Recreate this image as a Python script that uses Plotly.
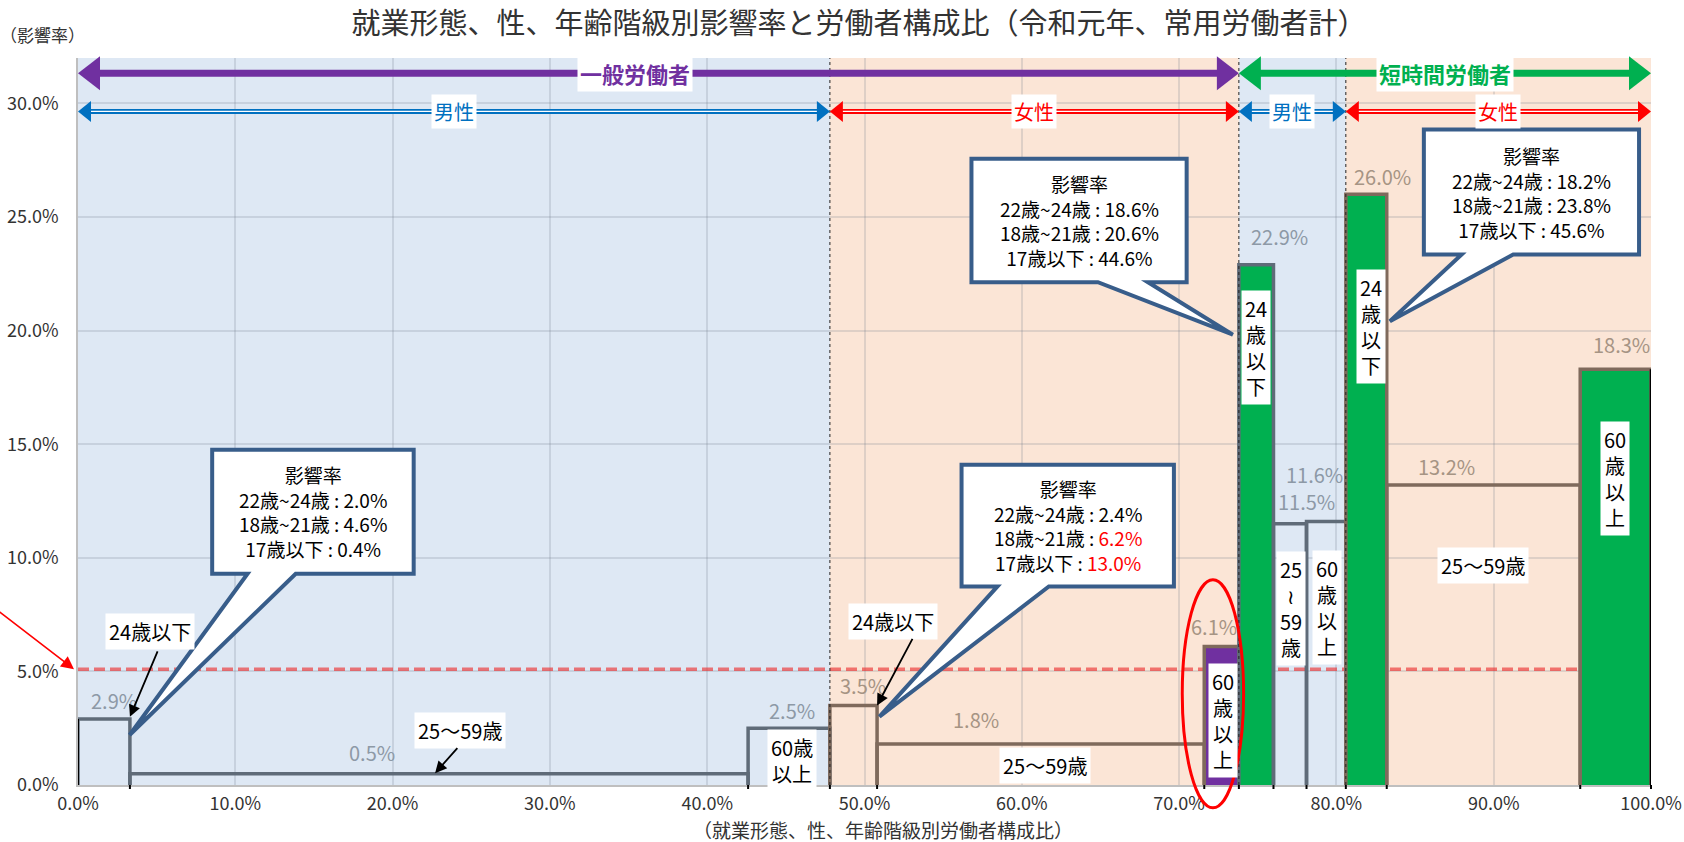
import numpy as np
import plotly.graph_objects as go

# ---------------- data ----------------
employment = ["一般労働者"] * 6 + ["短時間労働者"] * 6
sex = ["男性"] * 3 + ["女性"] * 3 + ["男性"] * 3 + ["女性"] * 3
age = ["24歳以下", "25〜59歳", "60歳以上"] * 4
composition = [3.3, 39.3, 5.2, 3.0, 20.8, 2.2, 2.2, 2.1, 2.5, 2.6, 12.3, 4.5]   # 労働者構成比 (%)
impact = [2.9, 0.5, 2.5, 3.5, 1.8, 6.1, 22.9, 11.5, 11.6, 26.0, 13.2, 18.3]     # 影響率 (%)
reference_rate = 5.1

# detailed impact rate of young workers (callouts), one per 24歳以下 block
young_block = [0, 3, 6, 9]
young_names = ["22歳~24歳", "18歳~21歳", "17歳以下"]
young_22_24 = [2.0, 2.4, 18.6, 18.2]
young_18_21 = [4.6, 6.2, 20.6, 23.8]
young_u17 = [0.4, 13.0, 44.6, 45.6]
young_highlight = [[False, False, False], [False, True, True],
                   [False, False, False], [False, False, False]]

x_tick_values = [0, 10, 20, 30, 40, 50, 60, 70, 80, 90, 100]
x_tick_labels = ["0.0%", "10.0%", "20.0%", "30.0%", "40.0%", "50.0%",
                 "60.0%", "70.0%", "80.0%", "90.0%", "100.0%"]
y_tick_values = [0, 5, 10, 15, 20, 25, 30]
y_tick_labels = ["0.0%", "5.0%", "10.0%", "15.0%", "20.0%", "25.0%", "30.0%"]

title_text = "就業形態、性、年齢階級別影響率と労働者構成比（令和元年、常用労働者計）"
x_title = "（就業形態、性、年齢階級別労働者構成比）"
y_title = "（影響率）"

# ---------------- geometry / style ----------------
W, H = 1684, 842
ML, MR, MT, MB = 78, 33, 58, 57
PW, PH = W - ML - MR, H - MT - MB
XMAX, YMAX = 100, 32
FONT = "Noto Sans CJK JP"

rights = np.cumsum(composition)
lefts = rights - np.array(composition)

SEX_BG = {"男性": "#DEE8F4", "女性": "#FBE5D6"}
SEX_LINE = {"男性": "#5F6B78", "女性": "#7F6A5C"}
SEX_LABEL = {"男性": "#8D99A6", "女性": "#A69484"}
SEX_ARROW = {"男性": "#0070C0", "女性": "#FF0000"}
EMP_ARROW = {"一般労働者": "#7030A0", "短時間労働者": "#00B050"}
FILL = {5: "#7030A0", 6: "#00B050", 9: "#00B050", 11: "#00B050"}

value_label_pos = [(2.3, 3.74), (18.7, 1.42), (45.4, 3.3), (49.9, 4.4), (57.1, 2.9),
                   (72.2, 6.97), (76.4, 24.15), (78.1, 12.5), (78.6, 13.66),
                   (82.9, 26.8), (87.0, 14.0), (98.1, 19.4)]

# (text, x, y, arrow tail, arrow head)
age_labels = [
    ("24歳以下", 4.6, 6.76, (5.1, 5.95), (3.3, 3.0)),
    ("25〜59歳", 24.3, 2.4, (24.2, 1.69), (22.7, 0.52)),
    ("60歳<br>以上", 45.4, 1.1, None, None),
    ("24歳以下", 51.8, 7.2, (53.1, 6.5), (50.8, 3.5)),
    ("25〜59歳", 61.5, 0.84, None, None),
    ("60<br>歳<br>以<br>上", 72.8, 2.86, None, None),
    ("24<br>歳<br>以<br>下", 74.9, 19.25, None, None),
    ("25<br>≀<br>59<br>歳", 77.1, 7.75, None, None),
    ("60<br>歳<br>以<br>上", 79.4, 7.8, None, None),
    ("24<br>歳<br>以<br>下", 82.2, 20.2, None, None),
    ("25〜59歳", 89.3, 9.65, None, None),
    ("60<br>歳<br>以<br>上", 97.7, 13.5, None, None),
]

# callout boxes: (x0, x1, y0, y1, base x0, base x1, tip x, tip y)
callout_geom = [
    (8.53, 21.34, 9.30, 14.76, 10.78, 13.84, 3.28, 2.20),
    (56.17, 69.67, 8.74, 14.10, 58.45, 61.72, 50.95, 3.01),
    (56.80, 70.48, 22.13, 27.56, 64.84, 68.02, 73.42, 19.82),
    (85.56, 99.24, 23.35, 28.85, 87.96, 91.24, 83.40, 20.41),
]

EMP_Y, SEX_Y = 31.33, 29.65
emp_label_x = {"一般労働者": 35.4, "短時間労働者": None}


def xp(x):
    return x / XMAX


def yp(y):
    return y / YMAX


def spans(keys):
    out = []
    start = 0
    for i in range(1, len(keys) + 1):
        if i == len(keys) or keys[i] != keys[start]:
            out.append((keys[start], lefts[start], rights[i - 1]))
            start = i
    return out


fig = go.Figure()
shapes = []
annotations = []

sex_spans = spans(list(zip(employment, sex)))
emp_spans = spans(employment)

# background shading per sex region
for (emp, sx), a, b in sex_spans:
    shapes.append(dict(type="rect", xref="x", yref="paper", x0=a, x1=b, y0=0, y1=1,
                       fillcolor=SEX_BG[sx], line=dict(width=0), layer="below"))

# reference line
fig.add_trace(go.Scatter(x=[0, XMAX], y=[reference_rate, reference_rate], mode="lines",
                         line=dict(color="rgba(235,50,50,0.65)", width=3.5, dash="11px,5px"),
                         hoverinfo="skip", showlegend=False))

# blocks (width = composition, height = impact rate)
for i, (l, r, h) in enumerate(zip(lefts, rights, impact)):
    fig.add_trace(go.Scatter(
        x=[l, l, r, r], y=[0, h, h, 0], mode="lines", fill="toself",
        fillcolor=FILL.get(i, "rgba(0,0,0,0)"),
        line=dict(color=SEX_LINE[sex[i]], width=3.5),
        hoverinfo="skip", showlegend=False))

# black outer edges
fig.add_trace(go.Scatter(x=[lefts[0], lefts[0]], y=[0, impact[0]], mode="lines",
                         line=dict(color="black", width=2), hoverinfo="skip", showlegend=False))
fig.add_trace(go.Scatter(x=[rights[-1], rights[-1]], y=[0, impact[-1]], mode="lines",
                         line=dict(color="black", width=2.5), hoverinfo="skip",
                         showlegend=False, cliponaxis=False))

# black ticks under block boundaries
for b in sorted(set(list(lefts[1:]) + [rights[-1]])):
    shapes.append(dict(type="line", xref="paper", yref="paper", x0=xp(b), x1=xp(b),
                       y0=0, y1=-4 / PH, line=dict(color="black", width=2)))

# dotted separators between sex regions
for (emp, sx), a, b in sex_spans[1:]:
    shapes.append(dict(type="line", xref="paper", yref="paper", x0=xp(a), x1=xp(a),
                       y0=0, y1=1, line=dict(color="#222", width=1, dash="dot")))


def double_arrow(a, b, y, color, lw, hw, hh, double=False, label=None, lx=None,
                 bold=False, size=20):
    ya = yp(y)
    xa, xb = xp(a), xp(b)
    w, hgt = hw / PW, hh / PH
    shapes.append(dict(type="line", xref="paper", yref="paper", x0=xa + w * 0.5,
                       x1=xb - w * 0.5, y0=ya, y1=ya, line=dict(color=color, width=lw)))
    if double:
        shapes.append(dict(type="line", xref="paper", yref="paper", x0=xa + w * 0.5,
                           x1=xb - w * 0.5, y0=ya, y1=ya,
                           line=dict(color="white", width=1.3)))
    for tip, d in ((xa, 1), (xb, -1)):
        path = (f"M {tip},{ya} L {tip + d * w},{ya + hgt / 2} "
                f"L {tip + d * w},{ya - hgt / 2} Z")
        shapes.append(dict(type="path", xref="paper", yref="paper", path=path,
                           fillcolor=color, line=dict(color=color, width=0)))
    if label:
        txt = f"<b>{label}</b>" if bold else label
        annotations.append(dict(x=lx if lx is not None else (a + b) / 2, y=y,
                                xref="x", yref="y", text=txt, showarrow=False,
                                bgcolor="white", borderpad=2,
                                font=dict(size=size, color=color, family=FONT)))


for emp, a, b in emp_spans:
    double_arrow(a, b, EMP_Y, EMP_ARROW[emp], 7, 22, 34, label=emp,
                 lx=emp_label_x.get(emp), bold=True, size=22)
for (emp, sx), a, b in sex_spans:
    double_arrow(a, b, SEX_Y, SEX_ARROW[sx], 5, 13, 21, double=True, label=sx, size=20)

# value labels
for i, (x, y) in enumerate(value_label_pos):
    annotations.append(dict(x=x, y=y, xref="x", yref="y", text=f"{impact[i]:.1f}%",
                            showarrow=False,
                            font=dict(size=20, color=SEX_LABEL[sex[i]], family=FONT)))

# age labels with optional arrows
for text, x, y, tail, head in age_labels:
    annotations.append(dict(x=x, y=y, xref="x", yref="y", text=text, showarrow=False,
                            bgcolor="white", borderpad=3,
                            font=dict(size=20, color="black", family=FONT)))
    if tail is not None:
        annotations.append(dict(x=head[0], y=head[1], ax=tail[0], ay=tail[1],
                                xref="x", yref="y", axref="x", ayref="y", text="",
                                showarrow=True, arrowhead=2, arrowsize=1.3,
                                arrowwidth=1.8, arrowcolor="black"))

# callouts
for k, (x0, x1, y0, y1, bx0, bx1, tx, ty) in enumerate(callout_geom):
    path = (f"M {x0},{y1} L {x1},{y1} L {x1},{y0} L {bx1},{y0} L {tx},{ty} "
            f"L {bx0},{y0} L {x0},{y0} Z")
    shapes.append(dict(type="path", xref="x", yref="y", path=path, fillcolor="white",
                       line=dict(color="#385D8A", width=4), layer="above"))
    vals = [young_22_24[k], young_18_21[k], young_u17[k]]
    lines = ["影響率"]
    for name, v, hl in zip(young_names, vals, young_highlight[k]):
        vs = f"{v:.1f}%"
        if hl:
            vs = f"<span style='color:#FF0000'>{vs}</span>"
        lines.append(f"{name} : {vs}")
    annotations.append(dict(x=(x0 + x1) / 2, y=(y0 + y1) / 2, xref="x", yref="y",
                            text="<br>".join(lines), showarrow=False, align="center",
                            font=dict(size=19, color="black", family=FONT)))

# red ellipse around 一般 女性 60歳以上
shapes.append(dict(type="circle", xref="paper", yref="paper", x0=xp(70.2), x1=xp(74.1),
                   y0=yp(-1.0), y1=yp(9.03), line=dict(color="#FF0000", width=3)))

# red arrow pointing to the reference line
annotations.append(dict(x=0, y=reference_rate, xref="x", yref="y", ax=-84, ay=-60,
                        text="", showarrow=True, arrowhead=2, arrowsize=1.6,
                        arrowwidth=1.6, arrowcolor="#FF0000", xshift=-4))

# axis titles
annotations.append(dict(x=(42 - ML) / PW, y=(H - MB - 34) / PH, xref="paper",
                        yref="paper", xanchor="center", yanchor="middle",
                        text=y_title, showarrow=False,
                        font=dict(size=17, color="#333", family=FONT)))
annotations.append(dict(x=(883 - ML) / PW, y=(H - MB - 829) / PH, xref="paper",
                        yref="paper", xanchor="center", yanchor="middle",
                        text=x_title, showarrow=False,
                        font=dict(size=19, color="#333", family=FONT)))

grid = "rgba(110,120,135,0.2)"
fig.update_layout(
    width=W, height=H,
    margin=dict(l=ML, r=MR, t=MT, b=MB, autoexpand=False),
    paper_bgcolor="white", plot_bgcolor="white", showlegend=False,
    font=dict(family=FONT, color="#222"),
    title=dict(text=title_text, x=(859) / W, xref="container", xanchor="center",
               y=1 - 24 / H, yref="container", yanchor="middle",
               font=dict(size=29, color="#333", family=FONT)),
    xaxis=dict(range=[0, XMAX], tickvals=x_tick_values, ticktext=x_tick_labels,
               showgrid=True, gridcolor=grid, gridwidth=1.5, zeroline=False,
               showline=True, linecolor="#BFBFBF", linewidth=1.5, ticks="",
               ticklabelstandoff=2, tickfont=dict(size=18, color="#333"),
               fixedrange=True),
    yaxis=dict(range=[0, YMAX], tickvals=y_tick_values, ticktext=y_tick_labels,
               showgrid=True, gridcolor=grid, gridwidth=1.5, zeroline=False,
               showline=True, linecolor="#BFBFBF", linewidth=1.5, ticks="",
               ticklabelstandoff=14, tickfont=dict(size=18, color="#333"),
               fixedrange=True),
    shapes=shapes, annotations=annotations,
)

fig.write_html("out.html", config={"displayModeBar": False},
               post_script="document.body.style.margin='0px';"
                           "document.body.style.overflow='hidden';")
